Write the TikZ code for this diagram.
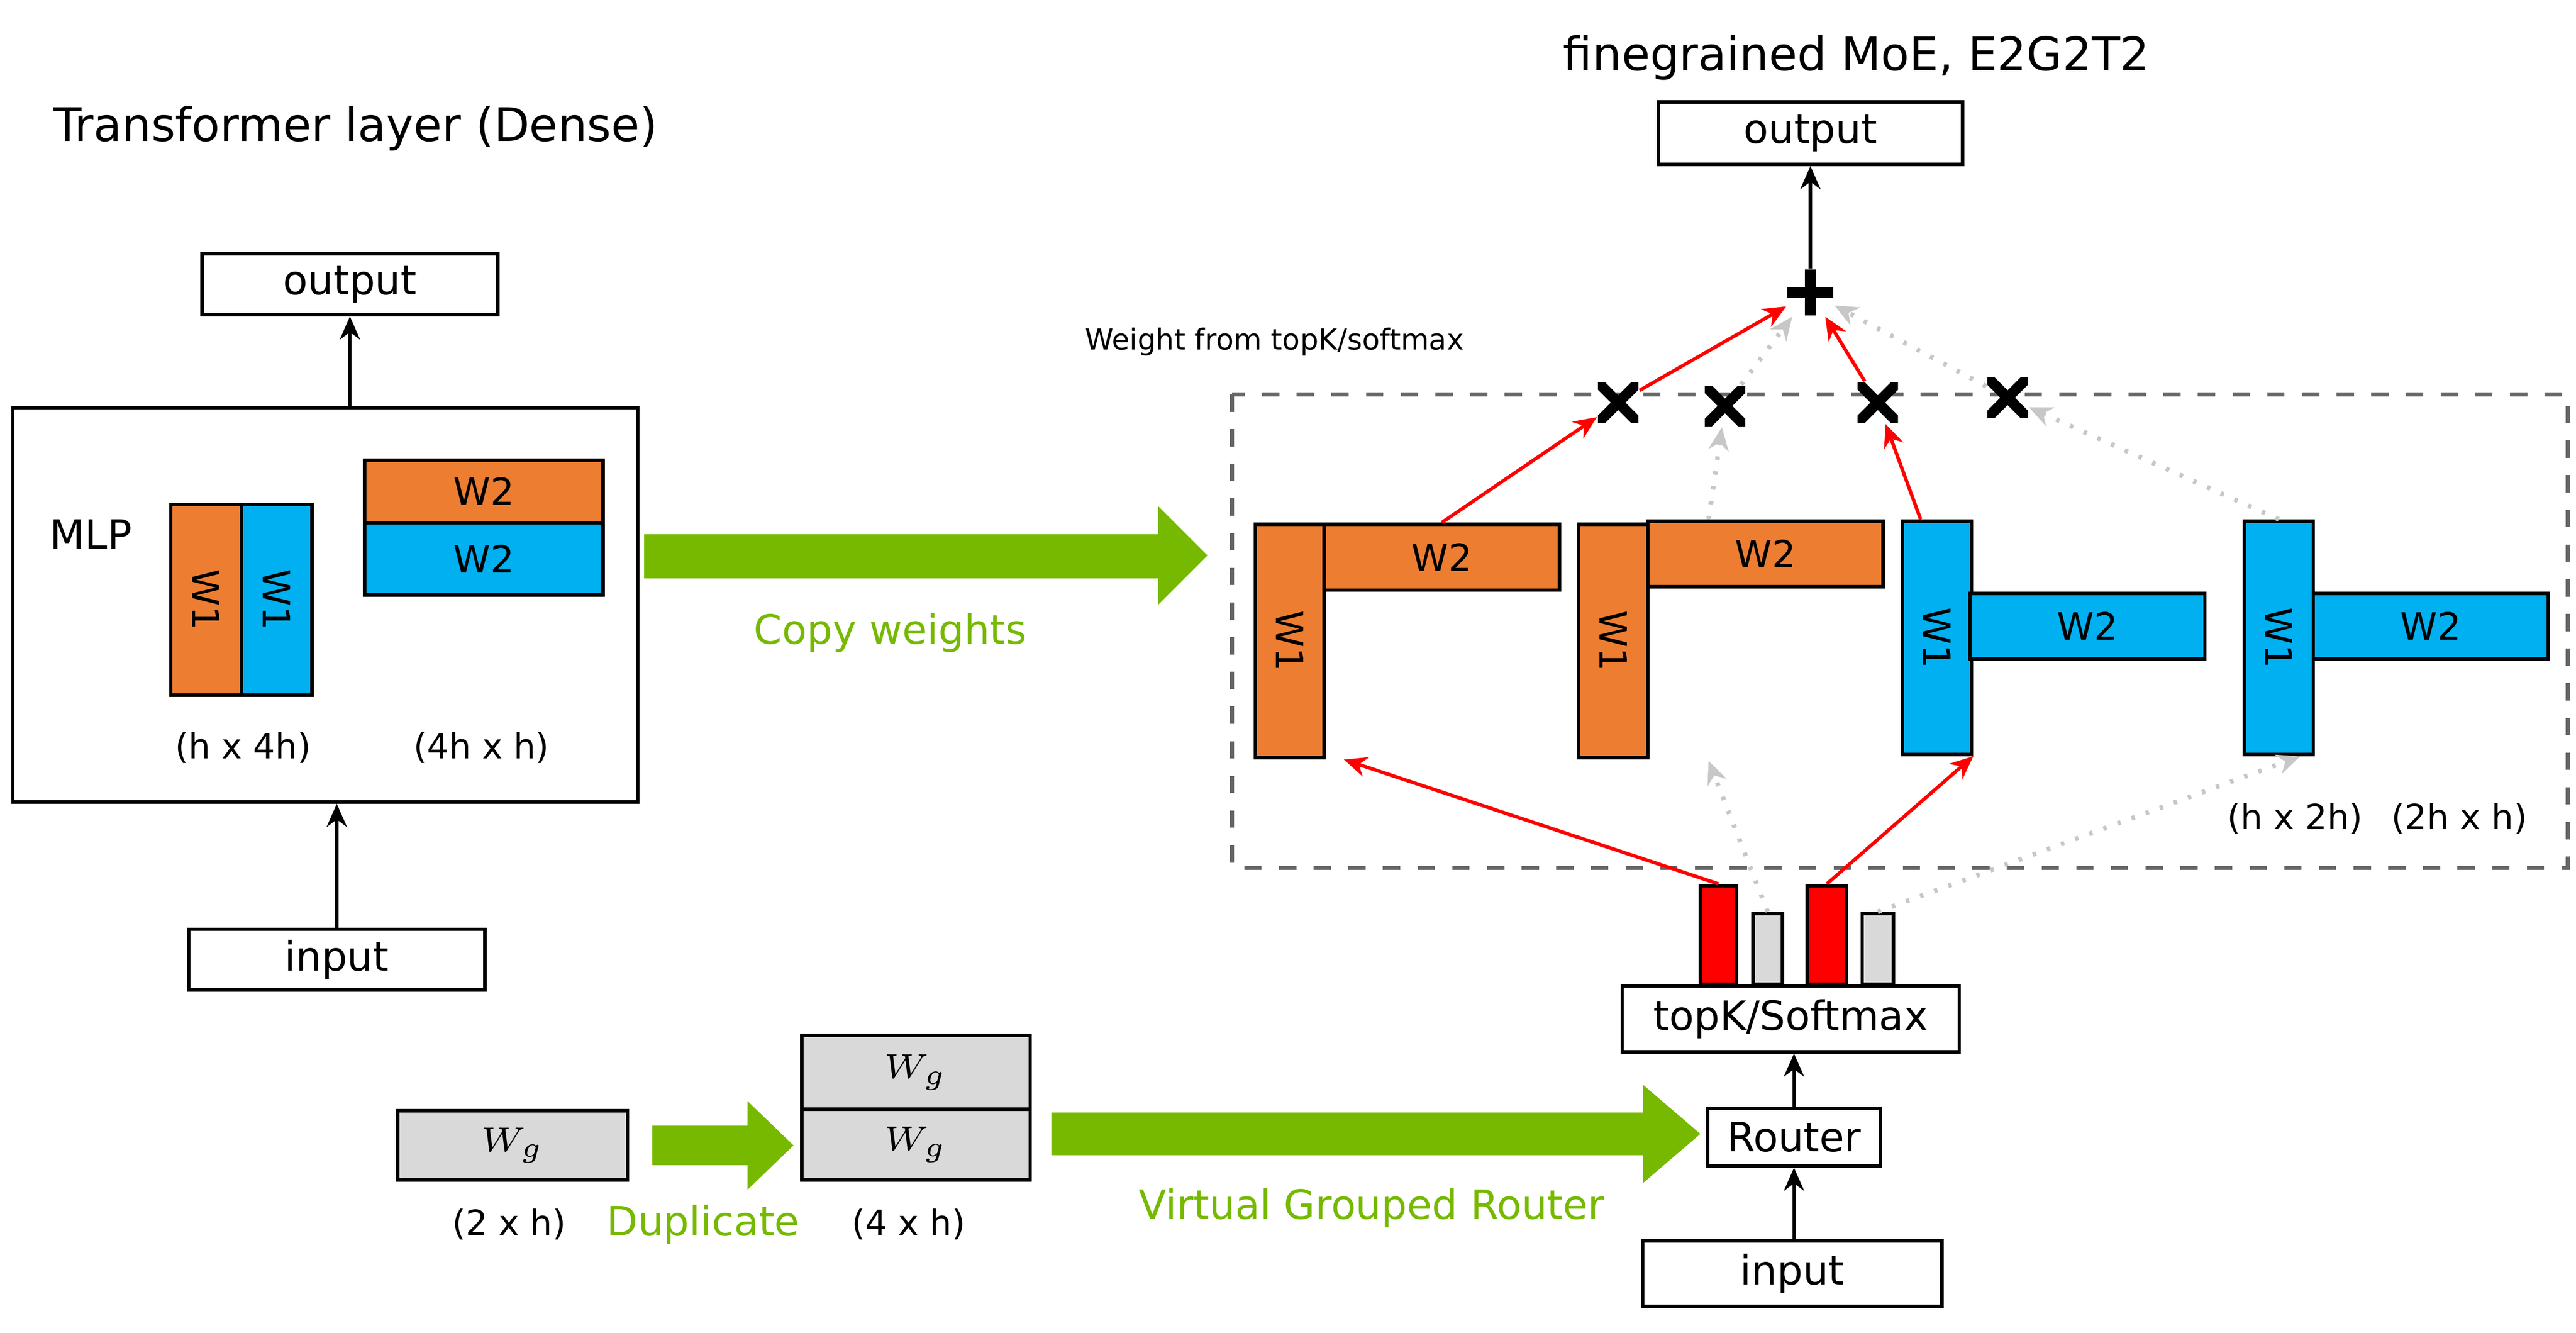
\documentclass[tikz,border=0pt]{standalone}
\usepackage{fontspec}
\setmainfont{DejaVu Sans}
\usetikzlibrary{arrows.meta}
\definecolor{ngreen}{RGB}{118,185,0}
\definecolor{worange}{RGB}{237,125,49}
\definecolor{wblue}{RGB}{0,176,240}
\definecolor{ggray}{RGB}{217,217,217}
\tikzset{
  box/.style={draw, line width=0.6pt, inner sep=0pt, font=\fontsize{7}{8}\selectfont},
  wmat/.style={draw, line width=0.6pt, inner sep=0pt, font=\fontsize{6.5}{7}\selectfont},
  lbl/.style={font=\fontsize{6}{7}\selectfont},
  glbl/.style={font=\fontsize{7}{8}\selectfont, text=ngreen},
  arr/.style={-{Stealth[length=4pt,width=3.5pt]}, line width=0.6pt},
  redarr/.style={arr, red},
  grayarr/.style={arr, ggray!80!gray, dotted, line width=0.8pt},
  xmark/.style={minimum size=7pt, inner sep=0pt, path picture={
      \draw[line width=1.8pt] (path picture bounding box.south west) -- (path picture bounding box.north east)
        (path picture bounding box.north west) -- (path picture bounding box.south east);}},
  pmark/.style={minimum size=8pt, inner sep=0pt, path picture={
      \draw[line width=1.9pt] (path picture bounding box.south) -- (path picture bounding box.north)
        (path picture bounding box.west) -- (path picture bounding box.east);}},
}
\begin{document}
\begin{tikzpicture}[x=0.01cm, y=-0.01cm]
\useasboundingbox (0,0) rectangle (1568,811);

% dense layer
\node[anchor=west, font=\fontsize{8}{10}\selectfont] at (20,78) {Transformer layer (Dense)};
\node[box, minimum width=1.8cm, minimum height=0.37cm] (outL) at (213,173) {output};
\node[box, minimum width=3.8cm, minimum height=2.4cm] (mlp) at (198,368) {};
\node[anchor=west, font=\fontsize{7}{8}\selectfont] at (18,325) {MLP};
\node[wmat, fill=worange, minimum width=0.43cm, minimum height=1.16cm] (w1a) at (125.5,365) {};
\node[rotate=-90, font=\fontsize{6.5}{7}\selectfont] at (125.5,365) {W1};
\node[wmat, fill=wblue, minimum width=0.43cm, minimum height=1.16cm] (w1b) at (168.5,365) {};
\node[rotate=-90, font=\fontsize{6.5}{7}\selectfont] at (168.5,365) {W1};
\node[wmat, fill=worange, minimum width=1.45cm, minimum height=0.38cm] (w2a) at (294.5,299) {W2};
\node[wmat, fill=wblue, minimum width=1.45cm, minimum height=0.44cm] (w2b) at (294.5,340) {W2};
\node[lbl] at (148,455) {(h x 4h)};
\node[lbl] at (293,455) {(4h x h)};
\node[box, minimum width=1.8cm, minimum height=0.37cm] (inL) at (205,584) {input};
\draw[arr] (inL.north) -- (inL.north |- mlp.south);
\draw[arr] (outL.south |- mlp.north) -- (outL.south);

% copy weights
\fill[ngreen] (392,325) -- (705,325) -- (705,308) -- (735,338) -- (705,368) -- (705,352) -- (392,352) -- cycle;
\node[glbl] at (542,385) {Copy weights};

% MoE
\node[font=\fontsize{8}{10}\selectfont] at (1130,35) {finegrained MoE, E2G2T2};
\node[box, minimum width=1.85cm, minimum height=0.38cm] (outR) at (1102,81) {output};
\node[pmark] (plus) at (1102,178) {};
\draw[arr] (plus) -- (outR.south);
\node[anchor=west, font=\fontsize{5}{6}\selectfont] at (648,208) {Weight from topK/softmax};
\draw[dashed, gray!80!black, line width=0.7pt] (750,240) rectangle (1563,528);
\node[xmark] (x1) at (985,245) {};
\node[xmark] (x2) at (1050,247) {};
\node[xmark] (x3) at (1143,245) {};
\node[xmark] (x4) at (1222,242) {};

\foreach \n/\xa/\ya/\xb/\yb/\c in {1/763/318/805/318/worange, 2/960/318/1002/316/worange, 3/1157/316/1198/360/wblue, 4/1365/316/1407/360/wblue}{
  \node[wmat, fill=\c, anchor=north west, minimum width=0.42cm, minimum height=1.42cm] (e\n a) at (\xa,\ya) {};
  \node[rotate=-90, font=\fontsize{6.5}{7}\selectfont] at (e\n a.center) {W1};
  \node[wmat, fill=\c, anchor=north west, minimum width=1.43cm, minimum height=0.4cm] (e\n b) at (\xb,\yb) {W2};
}
\node[lbl] at (1397,498) {(h x 2h)};
\node[lbl] at (1497,498) {(2h x h)};

% router
\node[box, minimum width=2.05cm, minimum height=0.4cm] (topk) at (1090,620) {topK/Softmax};
\node[box, minimum width=1.05cm, minimum height=0.35cm] (router) at (1092,692) {Router};
\node[box, minimum width=1.82cm, minimum height=0.4cm] (inR) at (1091,775) {input};
\draw[arr] (inR.north -| router) -- (router.south);
\draw[arr] (router.north) -- (router.north |- topk.south);
\node[wmat, fill=red, anchor=south, minimum width=0.22cm, minimum height=0.6cm] (b1) at (1046,600) {};
\node[wmat, fill=ggray, anchor=south, minimum width=0.18cm, minimum height=0.43cm] (b2) at (1076,600) {};
\node[wmat, fill=red, anchor=south, minimum width=0.24cm, minimum height=0.6cm] (b3) at (1112,600) {};
\node[wmat, fill=ggray, anchor=south, minimum width=0.19cm, minimum height=0.43cm] (b4) at (1143,600) {};
\coordinate (t2) at (1040,463);

\draw[redarr] (b1.north) -- ([xshift=0.55cm]e1a.south west);
\draw[grayarr] (b2.north) -- (t2);
\draw[redarr] (b3.north) -- (e3a.south east);
\draw[grayarr] (b4.north) -- ([xshift=0.13cm]e4a.south);
\draw[redarr] (e1b.north) -- (x1);
\draw[grayarr] (e2b.north -| t2) -- (x2);
\draw[redarr] ([xshift=-0.1cm]e3a.north) -- (x3);
\draw[grayarr] (e4a.north) -- (x4);
\draw[redarr] (x1) -- (plus);
\draw[grayarr] (x2) -- (plus);
\draw[redarr] (x3) -- (plus);
\draw[grayarr] (x4) -- (plus);

% gate weights
\node[wmat, fill=ggray, minimum width=1.4cm, minimum height=0.42cm] (wg) at (312,697) {$W_g$};
\node[lbl] at (310,745) {(2 x h)};
\fill[ngreen] (397,685) -- (455,685) -- (455,670) -- (483,697) -- (455,724) -- (455,709) -- (397,709) -- cycle;
\node[glbl] at (428,745) {Duplicate};
\node[wmat, fill=ggray, minimum width=1.39cm, minimum height=0.45cm] (wga) at (557.5,652.5) {$W_g$};
\node[wmat, fill=ggray, minimum width=1.39cm, minimum height=0.43cm] (wgb) at (557.5,696.5) {$W_g$};
\node[lbl] at (553,745) {(4 x h)};
\fill[ngreen] (640,677) -- (1000,677) -- (1000,660) -- (1035,690) -- (1000,720) -- (1000,703) -- (640,703) -- cycle;
\node[glbl] at (835,735) {Virtual Grouped Router};
\end{tikzpicture}
\end{document}
